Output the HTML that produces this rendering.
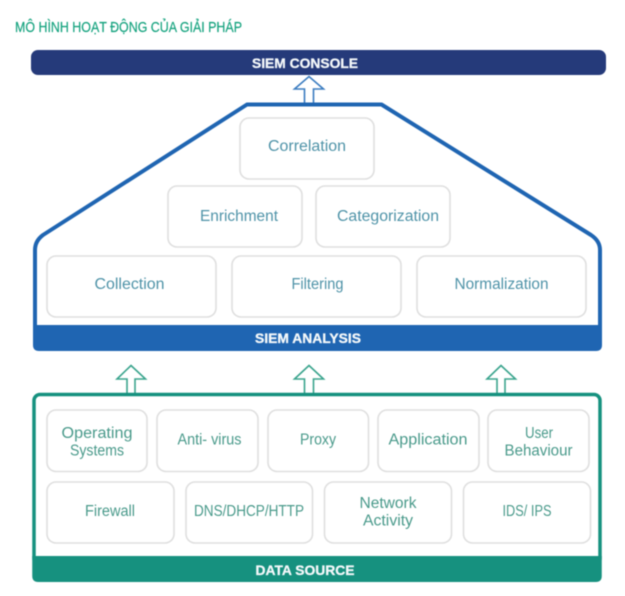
<!DOCTYPE html>
<html>
<head>
<meta charset="utf-8">
<style>
html,body{margin:0;padding:0;background:#fff;width:625px;height:596px;overflow:hidden}
svg{display:block;filter:blur(.4px)}
text{font-family:"Liberation Sans",sans-serif}
.b{fill:#fff;stroke:#dfdfdf;stroke-width:1.600}
.t{font-size:15.500px;text-anchor:middle;fill:#4f93a8}
.g{font-size:15.500px;text-anchor:middle;fill:#4a9a8b}
.h{font-size:13.500px;font-weight:bold;text-anchor:middle;fill:#f4f8fa;stroke:#f4f8fa;stroke-width:.3}
</style>
</head>
<body>
<svg width="625" height="596" viewBox="0 0 625 596" xmlns="http://www.w3.org/2000/svg">
<text x="15" y="32" font-size="15px" fill="#16a37f" stroke="#16a37f" stroke-width=".2" textLength="227" lengthAdjust="spacingAndGlyphs">MÔ HÌNH HOẠT ĐỘNG CỦA GIẢI PHÁP</text>

<rect x="31" y="50" width="575" height="25" rx="7" fill="#253a7a"/>
<text class="h" x="305" y="68" textLength="106" lengthAdjust="spacingAndGlyphs">SIEM CONSOLE</text>

<path d="M304.500 104V89H294.500L309 76.500L323.500 89H313.500V104" fill="#fff" stroke="#3a7cc0" stroke-width="1.600"/>

<path d="M247 104.500H381.500L591 235Q600 241 600 250V335H35V250Q35 241 43 235Z" fill="#fff" stroke="#1f65b2" stroke-width="4" stroke-linejoin="round"/>
<path d="M33 325H602V345Q602 351 596 351H39Q33 351 33 345V325Z" fill="#1f65b2"/>
<text class="h" x="308" y="343" textLength="106" lengthAdjust="spacingAndGlyphs">SIEM ANALYSIS</text>

<rect class="b" x="240" y="118" width="134" height="61" rx="9"/>
<text class="t" x="307" y="151" textLength="78" lengthAdjust="spacingAndGlyphs">Correlation</text>
<rect class="b" x="168" y="186" width="134" height="61" rx="9"/>
<text class="t" x="239" y="221" textLength="78" lengthAdjust="spacingAndGlyphs">Enrichment</text>
<rect class="b" x="316" y="186" width="134" height="61" rx="9"/>
<text class="t" x="388" y="221" textLength="102" lengthAdjust="spacingAndGlyphs">Categorization</text>
<rect class="b" x="47" y="256" width="169" height="61" rx="9"/>
<text class="t" x="129.500" y="289" textLength="70" lengthAdjust="spacingAndGlyphs">Collection</text>
<rect class="b" x="232" y="256" width="169" height="61" rx="9"/>
<text class="t" x="317.500" y="289" textLength="52" lengthAdjust="spacingAndGlyphs">Filtering</text>
<rect class="b" x="417" y="256" width="169" height="61" rx="9"/>
<text class="t" x="501.500" y="289" textLength="94" lengthAdjust="spacingAndGlyphs">Normalization</text>

<g fill="#fff" stroke="#3aa48d" stroke-width="1.600">
<path d="M127 394V379H117L131 365.500L145.500 379H135V394"/>
<path d="M304.500 394V379H294.500L309 365.500L323.500 379H313.500V394"/>
<path d="M497 394V379H487L501 365.500L515.500 379H505V394"/>
</g>

<rect x="34" y="394.500" width="566" height="170" rx="6" fill="#fff" stroke="#16917f" stroke-width="3.500"/>
<path d="M32.250 556H601.750V576Q601.750 582 595.750 582H38.250Q32.250 582 32.250 576V556Z" fill="#16917f"/>
<text class="h" x="305" y="575" textLength="99" lengthAdjust="spacingAndGlyphs">DATA SOURCE</text>

<rect class="b" x="47" y="410" width="100" height="61.500" rx="9"/>
<text class="g" x="97" y="438" textLength="71" lengthAdjust="spacingAndGlyphs">Operating</text>
<text class="g" x="97" y="455.500" textLength="54" lengthAdjust="spacingAndGlyphs">Systems</text>
<rect class="b" x="157" y="410" width="101" height="61.500" rx="9"/>
<text class="g" x="209.500" y="444.500" textLength="64" lengthAdjust="spacingAndGlyphs">Anti- virus</text>
<rect class="b" x="268" y="410" width="100.500" height="61.500" rx="9"/>
<text class="g" x="318" y="444.500" textLength="36" lengthAdjust="spacingAndGlyphs">Proxy</text>
<rect class="b" x="378" y="410" width="101" height="61.500" rx="9"/>
<text class="g" x="428" y="444.500" textLength="79" lengthAdjust="spacingAndGlyphs">Application</text>
<rect class="b" x="488" y="410" width="101" height="61.500" rx="9"/>
<text class="g" x="539" y="438" textLength="28" lengthAdjust="spacingAndGlyphs">User</text>
<text class="g" x="538.500" y="455.500" textLength="68" lengthAdjust="spacingAndGlyphs">Behaviour</text>

<rect class="b" x="47" y="482" width="127" height="61" rx="9"/>
<text class="g" x="110" y="516" textLength="50" lengthAdjust="spacingAndGlyphs">Firewall</text>
<rect class="b" x="186" y="482" width="126.500" height="61" rx="9"/>
<text class="g" x="249" y="516" textLength="110" lengthAdjust="spacingAndGlyphs">DNS/DHCP/HTTP</text>
<rect class="b" x="324.500" y="482" width="127" height="61" rx="9"/>
<text class="g" x="388" y="508" textLength="57" lengthAdjust="spacingAndGlyphs">Network</text>
<text class="g" x="388" y="525.500" textLength="50" lengthAdjust="spacingAndGlyphs">Activity</text>
<rect class="b" x="463.500" y="482" width="127" height="61" rx="9"/>
<text class="g" x="527" y="516" textLength="49" lengthAdjust="spacingAndGlyphs">IDS/ IPS</text>
</svg>
</body>
</html>
